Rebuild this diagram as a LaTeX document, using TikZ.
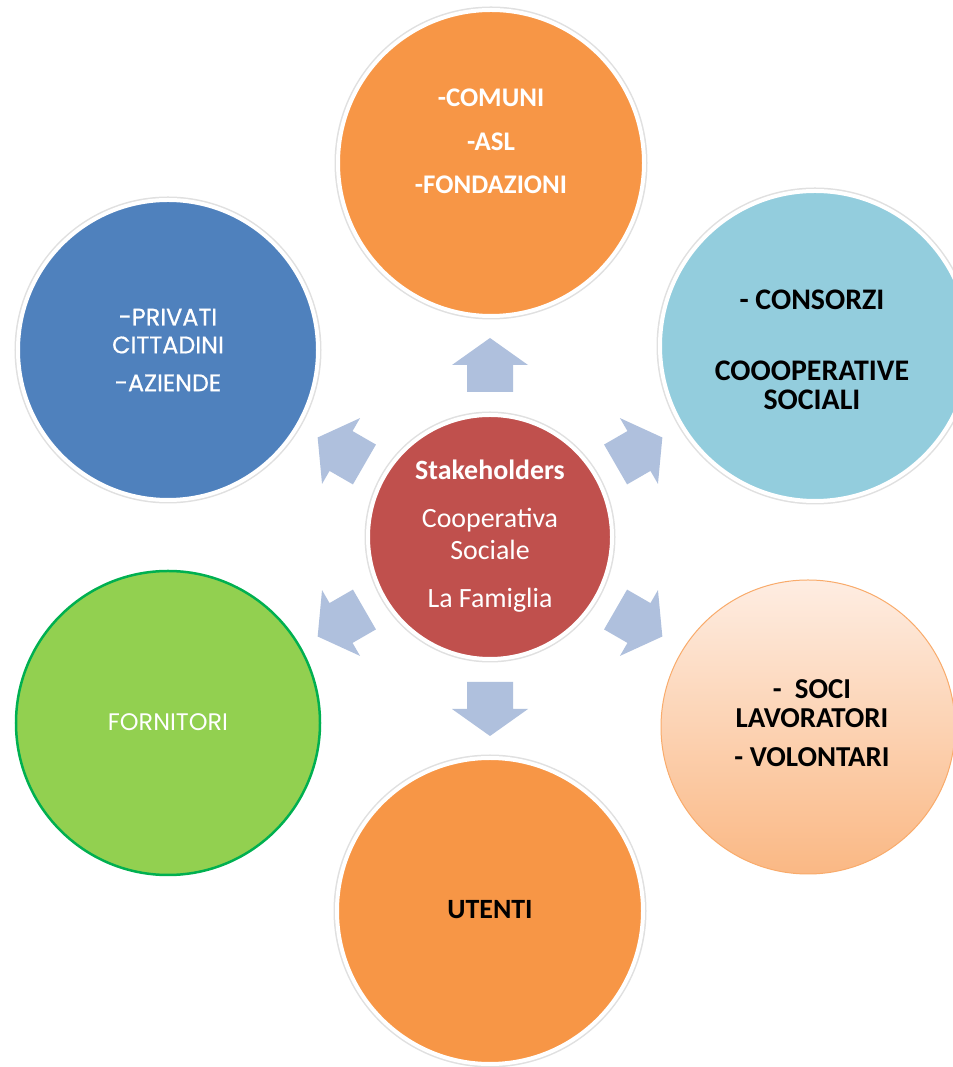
\documentclass[tikz,border=0pt]{standalone}
\usepackage{fontspec}
\setmainfont{Carlito}
\newfontfamily\geo{Poppins}
\newfontfamily\geob[FakeBold=0.6]{Poppins}
\usetikzlibrary{calc}
\definecolor{orangeA}{HTML}{F79646}
\definecolor{blueA}{HTML}{4F81BD}
\definecolor{aquaA}{HTML}{93CDDD}
\definecolor{greenA}{HTML}{92D050}
\definecolor{greenB}{HTML}{00B050}
\definecolor{redA}{HTML}{C0504D}
\definecolor{peachTop}{HTML}{FEEDE2}
\definecolor{peachBot}{HTML}{FAB884}
\definecolor{arrowA}{HTML}{AFC0DD}
\tikzset{
  bubble/.style={circle, inner sep=0pt, minimum size=#1},
  ringed/.style={draw=white, line width=4bp, preaction={draw=black!12, line width=7bp}},
  wtext/.style={text=white, align=center, inner sep=0pt},
  ktext/.style={text=black, align=center, inner sep=0pt},
  blockarrow/.style={fill=arrowA}
}
\begin{document}
\begin{tikzpicture}[x=1bp,y=1bp]
\useasboundingbox (0,0) rectangle (953,1067);
\fill[white] (0,0) rectangle (953,1067);

% outer circles
\node[bubble=306bp, fill=orangeA, ringed] (top) at (491,904) {};
\node[bubble=310bp, fill=aquaA, ringed] (ur) at (815,721) {};
\node[bubble=294bp, top color=peachTop, bottom color=peachBot, draw=orangeA!80, line width=1bp] (lr) at (808,340) {};
\node[bubble=306bp, fill=orangeA, ringed] (bot) at (490,156) {};
\node[bubble=304bp, fill=greenA, draw=greenB, line width=2.5bp] (ll) at (168,344) {};
\node[bubble=300bp, fill=blueA, ringed] (ul) at (168,717) {};

% centre
\node[bubble=244bp, fill=redA, ringed] (ctr) at (490,530) {};

% block arrows
\foreach \a in {30,90,150,210,270,330}{
  \fill[blockarrow, shift={(ctr.center)}, rotate=\a]
    (145,-23) -- (172,-23) -- (172,-38) -- (199,0) -- (172,38) -- (172,23) -- (145,23) -- cycle;
}

% texts
\node[wtext, font=\bfseries\fontsize{27}{43.5}\selectfont] (top-t) at (491,925.5)
  {-COMUNI\\-ASL\\-FONDAZIONI};
\node[wtext, font=\geob\fontsize{24}{28}\selectfont] (ul-t) at (168,717)
  {-PRIVATI\\CITTADINI\\[10bp]-AZIENDE};
\node[wtext, font=\geo\fontsize{24}{28}\selectfont] (ll-t) at (168,345) {FORNITORI};
\node[ktext, font=\bfseries\fontsize{30}{29}\selectfont] (ur-t) at (812,717.5)
  {- CONSORZI\\[42bp]COOOPERATIVE\\SOCIALI};
\node[ktext, font=\bfseries\fontsize{29}{29}\selectfont] (lr-t) at (812,343.5)
  {-~~SOCI\\LAVORATORI\\[10bp]- VOLONTARI};
\node[ktext, font=\bfseries\fontsize{28}{32}\selectfont] (bot-t) at (490,157) {UTENTI};
\node[wtext, font=\fontsize{28}{32}\selectfont] (ctr-t) at (490,531)
  {\textbf{Stakeholders}\\[16bp]Cooperativa\\Sociale\\[16bp]La Famiglia};
\end{tikzpicture}
\end{document}
